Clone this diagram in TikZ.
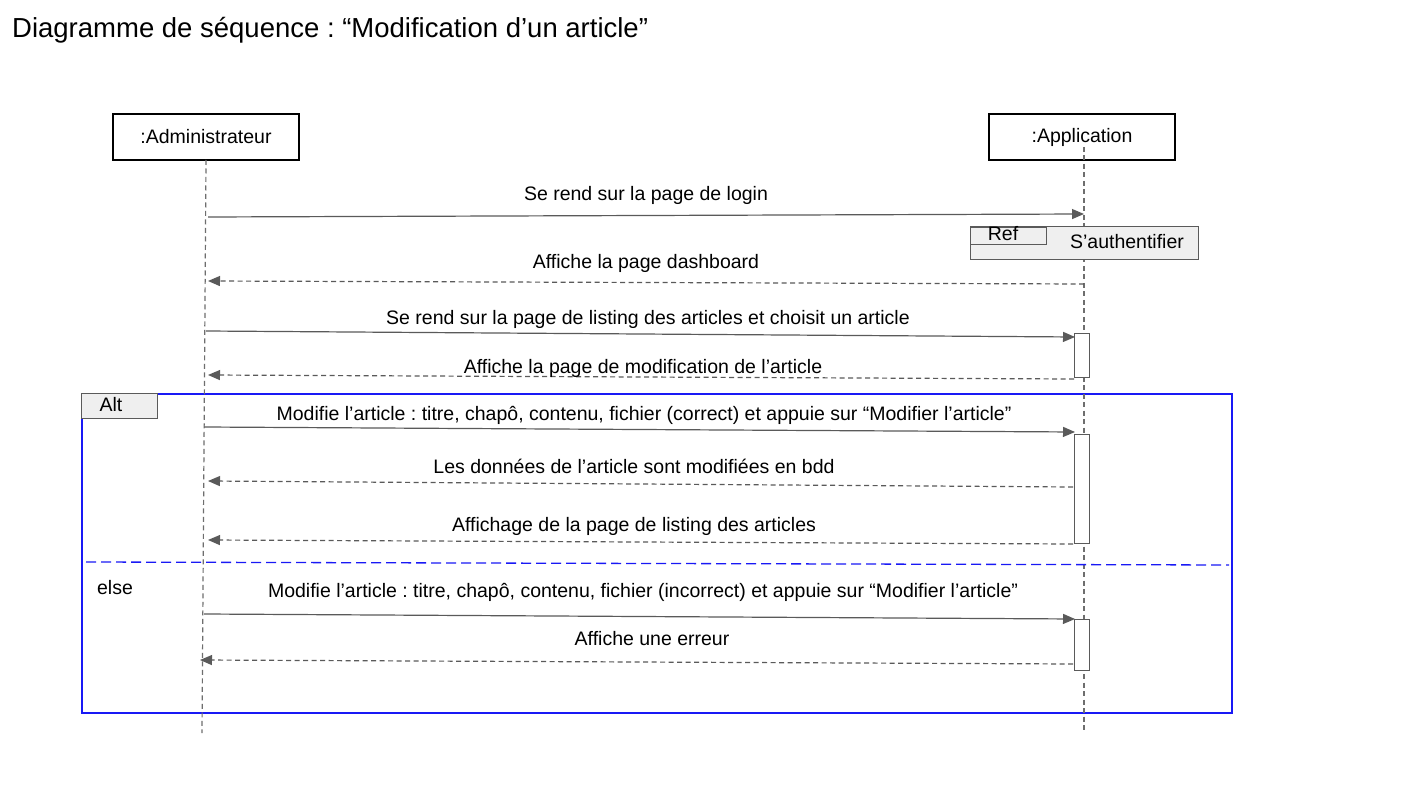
\documentclass[tikz,border=0pt]{standalone}
\usepackage{fontspec}
\setmainfont{Liberation Sans}
\usetikzlibrary{arrows.meta}
\frenchspacing
\definecolor{lifegray}{RGB}{110,110,110}
\definecolor{arrgray}{RGB}{90,90,90}
\definecolor{boxfill}{RGB}{239,239,239}
\definecolor{altblue}{RGB}{25,25,245}
\tikzset{
  txt/.style={font=\fontsize{19.5}{23}\selectfont, inner sep=0pt, anchor=base},
  actor/.style={draw=black, line width=1.2pt, fill=white, minimum width=186pt, minimum height=46pt, inner sep=0pt, font=\fontsize{19.5}{23}\selectfont},
  lifeline/.style={draw=lifegray, line width=1.2pt, dash pattern=on 5pt off 3.5pt},
  callmsg/.style={draw=arrgray, line width=1.2pt, -{Triangle[length=12pt,width=10pt]}},
  retmsg/.style={draw=arrgray, line width=1.2pt, dash pattern=on 5pt off 3.5pt, -{Triangle[length=12pt,width=10pt]}},
  activation/.style={draw=arrgray, line width=1.2pt, fill=white},
  framebox/.style={draw=altblue, line width=1.7pt},
  tabbox/.style={draw=arrgray, line width=1.1pt, fill=boxfill},
}
\begin{document}
\begin{tikzpicture}[x=1pt,y=-1pt]
\useasboundingbox (0,0) rectangle (1407,791);
\fill[white] (0,0) rectangle (1407,791);

% title
\node[font=\fontsize{27.5}{32}\selectfont, inner sep=0pt, anchor=base west] (title) at (12,38) {Diagramme de séquence : “Modification d’un article”};

% actors
\node[actor] (admin) at (206,137) {:Administrateur};
\node[actor] (app) at (1082,137) {:Application};

% lifelines
\coordinate (admTop) at (206,160);
\coordinate (admBot) at (202,733);
\coordinate (appTop) at (1084,147);
\coordinate (appBot) at (1084,731);

% alt frame
\node[framebox, minimum width=1150pt, minimum height=319pt, inner sep=0pt, anchor=north west] (alt) at (81,393) {};

\draw[lifeline] (admTop) -- (admBot);
\draw[lifeline] (appTop) -- (appBot);

% alt tab
\node[tabbox, minimum width=76pt, minimum height=25pt, inner sep=0pt, anchor=north west] (alttab) at (81,393) {};
\node[txt] (altlbl) at (111,411) {Alt};

% separator
\coordinate (sepL) at (86,562);
\coordinate (sepR) at (1229,565);
\draw[draw=altblue, line width=1.3pt, dash pattern=on 10pt off 5pt] (sepL) -- (sepR);
\node[txt] (elselbl) at (115,594) {else};

% ref box
\node[tabbox, minimum width=228pt, minimum height=33pt, inner sep=0pt, anchor=north west] (ref) at (970,226) {};
\node[tabbox, minimum width=76pt, minimum height=17pt, inner sep=0pt, anchor=north west] (reftab) at (970,227) {};
\node[txt] (reflbl) at (1003,241) {Ref};
\node[txt] (refname) at (1127,249) {S’authentifier};

% activations
\node[activation, minimum width=15pt, minimum height=44pt, inner sep=0pt, anchor=north west] (act1) at (1074,333) {};
\node[activation, minimum width=15pt, minimum height=109pt, inner sep=0pt, anchor=north west] (act2) at (1074,434) {};
\node[activation, minimum width=15pt, minimum height=51pt, inner sep=0pt, anchor=north west] (act3) at (1074,619) {};

% message end coordinates
\coordinate (m1s) at (208,217);  \coordinate (m1e) at (1084,214);
\coordinate (m2s) at (1084,284); \coordinate (m2e) at (208,281);
\coordinate (m3s) at (206,331);  \coordinate (m3e) at (1075,337);
\coordinate (m4s) at (1074,379); \coordinate (m4e) at (208,375);
\coordinate (m5s) at (204,427);  \coordinate (m5e) at (1075,432);
\coordinate (m6s) at (1073,487); \coordinate (m6e) at (208,481);
\coordinate (m7s) at (1073,544); \coordinate (m7e) at (208,540);
\coordinate (m8s) at (204,614);  \coordinate (m8e) at (1075,619);
\coordinate (m9s) at (1073,664); \coordinate (m9e) at (200,660);

\draw[callmsg] (m1s) -- (m1e);
\draw[retmsg] (m2s) -- (m2e);
\draw[callmsg] (m3s) -- (m3e);
\draw[retmsg] (m4s) -- (m4e);
\draw[callmsg] (m5s) -- (m5e);
\draw[retmsg] (m6s) -- (m6e);
\draw[retmsg] (m7s) -- (m7e);
\draw[callmsg] (m8s) -- (m8e);
\draw[retmsg] (m9s) -- (m9e);

% labels
\node[txt] (l1) at (646,201) {Se rend sur la page de login};
\node[txt] (l2) at (646,269) {Affiche la page dashboard};
\node[txt] (l3) at (648,324) {Se rend sur la page de listing des articles et choisit un article};
\node[txt] (l4) at (643,373) {Affiche la page de modification de l’article};
\node[txt] (l5) at (644,420) {Modifie l’article : titre, chapô, contenu, fichier (correct) et appuie sur “Modifier l’article”};
\node[txt] (l6) at (634,473) {Les données de l’article sont modifiées en bdd};
\node[txt] (l7) at (634,531) {Affichage de la page de listing des articles};
\node[txt] (l8) at (643,597) {Modifie l’article : titre, chapô, contenu, fichier (incorrect) et appuie sur “Modifier l’article”};
\node[txt] (l9) at (652,645) {Affiche une erreur};
\end{tikzpicture}
\end{document}
